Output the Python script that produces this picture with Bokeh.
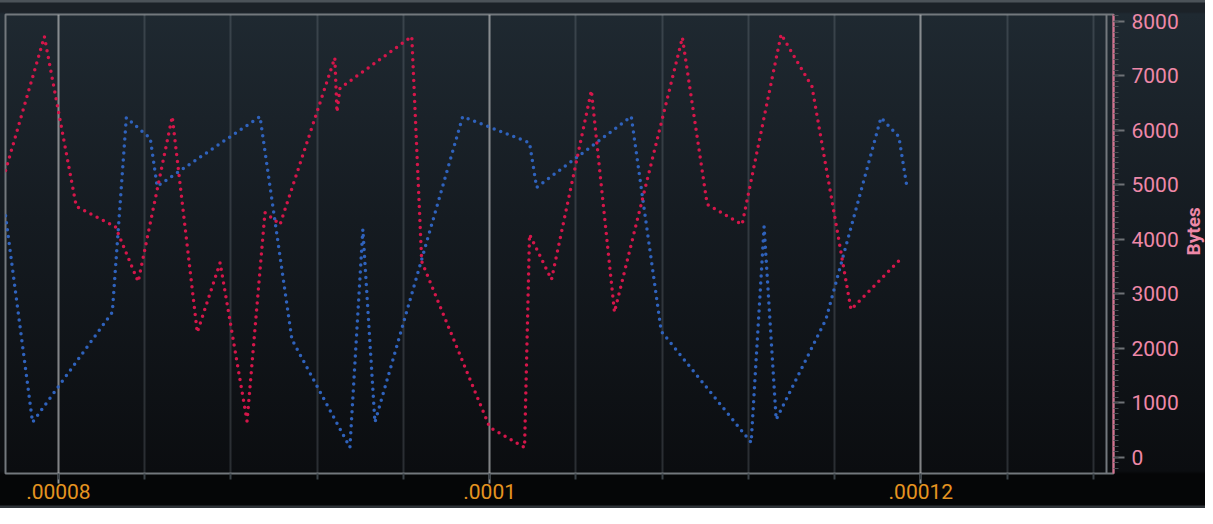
import math
from bokeh.plotting import figure
from bokeh.layouts import row
from bokeh.models import Range1d, FixedTicker, CustomJSTickFormatter, Span
from bokeh.core.properties import value
from bokeh.embed import file_html
from bokeh.resources import INLINE

# ---------------- data ----------------
red_x = [7.755e-5, 7.935e-5, 8.083e-5, 8.264e-5, 8.370e-5, 8.528e-5, 8.644e-5, 8.750e-5,
         8.875e-5, 8.958e-5, 9.028e-5, 9.282e-5, 9.292e-5, 9.306e-5, 9.639e-5, 9.685e-5,
         1.0000e-4, 1.0162e-4, 1.0185e-4, 1.0287e-4, 1.0472e-4, 1.0579e-4, 1.0894e-4,
         1.1009e-4, 1.1171e-4, 1.1352e-4, 1.1495e-4, 1.1676e-4, 1.1912e-4]
red_y = [5260, 7720, 4600, 4230, 3220, 6250, 2290, 3570, 660, 4490, 4270, 7330, 6330, 6770,
         7720, 3590, 550, 180, 4090, 3260, 6730, 2660, 7700, 4640, 4270, 7760, 6800, 2710, 3660]

blue_x = [7.755e-5, 7.880e-5, 8.250e-5, 8.315e-5, 8.426e-5, 8.458e-5, 8.935e-5, 9.083e-5,
          9.352e-5, 9.412e-5, 9.468e-5, 9.875e-5, 1.0185e-4, 1.0218e-4, 1.0657e-4, 1.0796e-4,
          1.1213e-4, 1.1273e-4, 1.1329e-4, 1.1560e-4, 1.1815e-4, 1.1898e-4, 1.1935e-4]
blue_y = [4430, 640, 2660, 6230, 5850, 4970, 6250, 2160, 180, 4180, 640, 6250, 5770, 4950,
          6250, 2310, 270, 4230, 690, 2530, 6230, 5880, 4970]

x_ticks = [0.00008, 0.0001, 0.00012]
x_tick_labels = [".00008", ".0001", ".00012"]
y_ticks = [0, 1000, 2000, 3000, 4000, 5000, 6000, 7000, 8000]
y_label = "Bytes"

# ---------------- styling / layout ----------------
X_START, X_END = 7.75463e-5, 1.289352e-4
Y_START, Y_END = -299, 8123
FRAME_RIGHT_X = 1.28611e-4
RED = "#d4164a"
BLUE = "#2f62bc"
PINK = "#ee88a8"
FONT = "Roboto"
BG = ("linear-gradient(to bottom, #4c5359 0px, #4c5359 2px, #1c2228 3px, "
      "#1c2228 12px, #1f2931 14px, #151b21 220px, #0b0d10 471px, "
      "#050607 474px, #050607 505px, #2e3338 506px, #2e3338 508px)")

x_minor = [round(0.000076 + i * 0.000004, 9) for i in range(14)]
y_minor = [v for v in range(-200, 8101, 100)]

p = figure(width=1181, height=508, output_backend="svg", toolbar_location=None,
           x_range=Range1d(X_START, X_END), y_range=Range1d(Y_START, Y_END),
           y_axis_location="right",
           min_border_left=5, min_border_top=14, min_border_bottom=35, min_border_right=66)

p.background_fill_color = None
p.border_fill_color = None
p.styles = {"background": BG}
p.outline_line_color = "#73787d"
p.outline_line_width = 2

# grid
p.ygrid.grid_line_color = None
p.xgrid.grid_line_color = "#c8c8c8"
p.xgrid.grid_line_alpha = 0.55
p.xgrid.grid_line_width = 2
p.xgrid.minor_grid_line_color = "#9aa4ae"
p.xgrid.minor_grid_line_alpha = 0.22
p.xgrid.minor_grid_line_width = 2

# x axis
xa = p.xaxis[0]
xa.ticker = FixedTicker(ticks=x_ticks, minor_ticks=x_minor)
xa.formatter = CustomJSTickFormatter(args=dict(xt=x_ticks, xl=x_tick_labels), code="""
    for (let i = 0; i < xt.length; i++) {
        if (Math.abs(xt[i] - tick) < 1e-12) return xl[i];
    }
    return "";
""")
xa.axis_line_color = None
xa.major_tick_line_color = "#8e9398"
xa.major_tick_line_width = 2
xa.major_tick_out = 10
xa.major_tick_in = 0
xa.minor_tick_line_color = "#3b4248"
xa.minor_tick_line_width = 2
xa.minor_tick_out = 6
xa.minor_tick_in = 0
xa.major_label_text_color = "#e59420"
xa.major_label_text_font = FONT
xa.major_label_text_font_size = "21px"
xa.major_label_standoff = 0

# y axis (right)
ya = p.yaxis[0]
ya.ticker = FixedTicker(ticks=y_ticks, minor_ticks=y_minor)
ya.axis_line_color = "#d9708f"
ya.axis_line_width = 2
ya.major_tick_line_color = "#6f7276"
ya.major_tick_line_width = 2
ya.major_tick_out = 11
ya.major_tick_in = 0
ya.minor_tick_line_color = "#4c5055"
ya.minor_tick_line_width = 1
ya.minor_tick_out = 5
ya.minor_tick_in = 0
ya.major_label_text_color = PINK
ya.major_label_text_font = FONT
ya.major_label_text_font_size = "21px"
ya.major_label_standoff = 7

# right border of the inner frame
p.add_layout(Span(location=FRAME_RIGHT_X, dimension="height", line_color="#73787d", line_width=2))

# series
p.line(blue_x, blue_y, line_color=BLUE, line_width=3.5, line_dash="0 7", line_cap="round")
p.line(red_x, red_y, line_color=RED, line_width=3.5, line_dash="0 7", line_cap="round")

# narrow strip carrying the rotated axis title (reads bottom-to-top)
t = figure(width=24, height=508, output_backend="svg", toolbar_location=None,
           x_range=Range1d(0, 1), y_range=Range1d(0, 508),
           min_border_left=0, min_border_right=0, min_border_top=0, min_border_bottom=0)
t.axis.visible = False
t.grid.grid_line_color = None
t.outline_line_color = None
t.background_fill_color = None
t.border_fill_color = None
t.styles = {"background": BG}
t.text(x=[0.5], y=[268], text=[y_label], angle=math.pi / 2,
       text_align="center", text_baseline="middle", text_color=PINK,
       text_font=value(FONT), text_font_size=value("19px"), text_font_style="bold")

layout = row(p, t, spacing=0)
open("out.html", "w").write(file_html(layout, INLINE))
